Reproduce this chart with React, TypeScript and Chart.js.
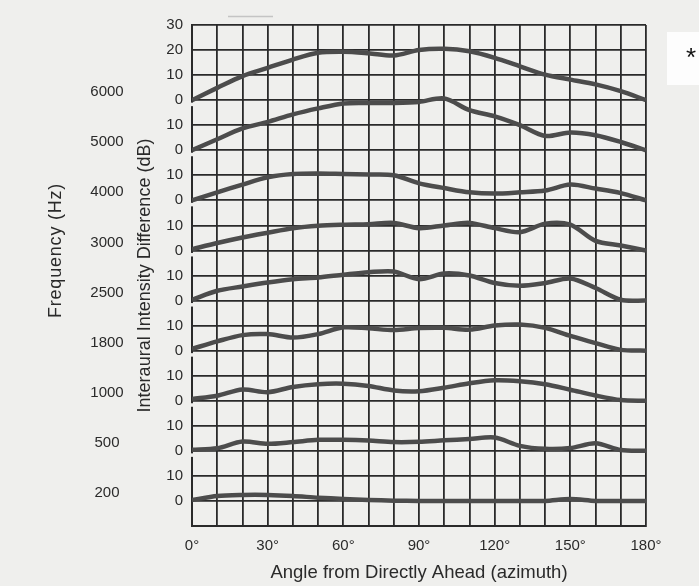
import React, { useEffect, useRef } from 'react';
import { Chart, registerables } from 'chart.js';

Chart.register(...registerables);

// Azimuth angles (degrees) at which each curve is sampled
const ANGLES = [0, 10, 20, 30, 40, 50, 60, 70, 80, 90, 100, 110, 120, 130, 140, 150, 160, 170, 180];

// Frequency of each stacked curve (top to bottom) and the baseline offset of its 0 dB line
const FREQUENCIES = ['6000', '5000', '4000', '3000', '2500', '1800', '1000', '500', '200'];
const BASELINES = [160, 140, 120, 100, 80, 60, 40, 20, 0];

// Interaural intensity difference (dB) per frequency
const IID_6000 = [0, 4.9, 9.6, 12.9, 16.2, 18.9, 19.3, 18.7, 17.8, 20.0, 20.5, 19.5, 16.9, 13.5, 10.2, 8.2, 6.3, 3.6, 0];
const IID_5000 = [0, 4.4, 8.7, 11.3, 14.3, 16.7, 18.7, 18.9, 18.9, 19.3, 20.7, 16.0, 13.5, 10.0, 5.7, 7.1, 6.0, 3.3, 0];
const IID_4000 = [0, 3.2, 6.3, 9.2, 10.5, 10.7, 10.5, 10.3, 10.0, 6.8, 4.9, 3.2, 2.7, 3.2, 3.9, 6.3, 4.7, 2.9, 0];
const IID_3000 = [0.5, 3.0, 5.2, 7.1, 8.9, 9.9, 10.3, 10.5, 11.0, 8.9, 10.0, 11.0, 8.9, 7.3, 10.7, 10.3, 3.8, 2.0, 0];
const IID_2500 = [0.3, 3.9, 5.6, 7.2, 8.5, 9.2, 10.3, 11.3, 11.6, 8.5, 10.8, 10.0, 7.0, 5.9, 7.0, 8.8, 5.0, 0.3, 0];
const IID_1800 = [0.7, 3.7, 6.2, 6.6, 5.2, 6.6, 9.3, 8.9, 8.2, 9.0, 9.1, 8.4, 10.0, 10.4, 9.1, 5.9, 3.0, 0.3, 0];
const IID_1000 = [0.7, 2.0, 4.5, 3.4, 5.5, 6.6, 6.8, 5.9, 4.1, 3.8, 5.2, 7.0, 8.2, 7.8, 6.6, 4.4, 2.1, 0.3, 0];
const IID_500 = [0.4, 1.0, 3.7, 2.8, 3.5, 4.4, 4.4, 4.1, 3.5, 3.6, 4.2, 4.7, 5.3, 2.0, 0.8, 1.1, 3.0, 0.3, 0];
const IID_200 = [0.4, 2.0, 2.4, 2.4, 2.0, 1.3, 0.8, 0.4, 0.1, 0, 0, 0, 0, 0, 0, 0.8, 0, 0, 0];

const SERIES = [IID_6000, IID_5000, IID_4000, IID_3000, IID_2500, IID_1800, IID_1000, IID_500, IID_200];

// Tick labels
const Y_TICK_VALUES = [-10, 0, 10, 20, 30, 40, 50, 60, 70, 80, 90, 100, 110, 120, 130, 140, 150, 160, 170, 180, 190];
const Y_TICK_LABELS = ['', '0', '10', '0', '10', '0', '10', '0', '10', '0', '10', '0', '10', '0', '10', '0', '10', '0', '10', '20', '30'];
const X_TICK_VALUES = [0, 30, 60, 90, 120, 150, 180];
const X_TICK_LABELS = ['0°', '30°', '60°', '90°', '120°', '150°', '180°'];

const FONT = '"Liberation Sans", Arial, Helvetica, sans-serif';
const BG = '#efefed';
const INK = '#2a2a2a';

const decorPlugin = {
  id: 'decor',
  beforeDraw(chart: any) {
    const { ctx, width, height } = chart;
    ctx.save();
    ctx.fillStyle = BG;
    ctx.fillRect(0, 0, width, height);
    // white paper patch at the right edge
    ctx.fillStyle = '#fdfdfd';
    ctx.fillRect(667, 32, 32, 53);
    // faint rule above the plot
    ctx.strokeStyle = '#c4c4c4';
    ctx.lineWidth = 1.5;
    ctx.beginPath();
    ctx.moveTo(228, 16.5);
    ctx.lineTo(273, 16.5);
    ctx.stroke();
    ctx.restore();
  },
  afterDraw(chart: any) {
    const { ctx, chartArea } = chart;
    const y = chart.scales.y;
    ctx.save();
    // small breaks in the left frame just below each baseline
    ctx.fillStyle = BG;
    BASELINES.forEach((b) => {
      if (b === 0) return;
      const py = y.getPixelForValue(b);
      ctx.fillRect(chartArea.left - 3, py + 2.5, 4, 3.5);
    });
    // frequency labels
    ctx.fillStyle = INK;
    ctx.font = `15px ${FONT}`;
    ctx.textAlign = 'center';
    ctx.textBaseline = 'middle';
    FREQUENCIES.forEach((f, i) => {
      ctx.fillText(f, 107, y.getPixelForValue(BASELINES[i] + 3.2));
    });
    // frequency axis title
    ctx.save();
    ctx.translate(56, y.getPixelForValue(100));
    ctx.rotate(-Math.PI / 2);
    ctx.font = `18px ${FONT}`;
    (ctx as any).letterSpacing = '0.8px';
    ctx.fillText('Frequency (Hz)', 0, 0);
    ctx.restore();
    // asterisk on the paper patch
    ctx.fillStyle = '#111';
    ctx.font = `26px ${FONT}`;
    ctx.textAlign = 'center';
    ctx.textBaseline = 'middle';
    ctx.fillText('*', 691, 59);
    ctx.restore();
  },
};

export default function App() {
  const canvasRef = useRef<HTMLCanvasElement | null>(null);

  useEffect(() => {
    const canvas = canvasRef.current;
    if (!canvas) return;
    const datasets = SERIES.map((values, i) => ({
      label: `${FREQUENCIES[i]} Hz`,
      data: ANGLES.map((a, k) => ({ x: a, y: BASELINES[i] + values[k] })),
      borderColor: '#4c4c4c',
      borderWidth: 4.5,
      pointRadius: 0,
      tension: 0.3,
      fill: false,
    }));

    const chart = new Chart(canvas, {
      type: 'line',
      data: { datasets },
      plugins: [decorPlugin],
      options: {
        animation: false,
        responsive: false,
        maintainAspectRatio: false,
        layout: { padding: { top: 25, right: 53, left: 0, bottom: 0 } },
        plugins: {
          legend: { display: false },
          tooltip: { enabled: false },
        },
        scales: {
          x: {
            type: 'linear',
            min: 0,
            max: 180,
            afterFit: (s: any) => {
              s.height = 60;
            },
            afterBuildTicks: (s: any) => {
              s.ticks = ANGLES.map((v) => ({ value: v }));
            },
            ticks: {
              autoSkip: false,
              maxRotation: 0,
              padding: 11,
              color: INK,
              font: { family: FONT, size: 15 },
              callback: (v: any) => {
                const idx = X_TICK_VALUES.indexOf(Number(v));
                return idx >= 0 ? X_TICK_LABELS[idx] : '';
              },
            },
            grid: { color: INK, lineWidth: 1.8, drawTicks: false },
            border: { display: true, color: INK, width: 2 },
            title: {
              display: true,
              text: 'Angle from Directly Ahead (azimuth)',
              color: INK,
              font: { family: FONT, size: 18.5 },
              padding: { top: 0, bottom: 2 },
            },
          },
          y: {
            type: 'linear',
            min: -10,
            max: 190,
            afterFit: (s: any) => {
              s.width = 192;
            },
            afterBuildTicks: (s: any) => {
              s.ticks = Y_TICK_VALUES.map((v) => ({ value: v }));
            },
            ticks: {
              autoSkip: false,
              padding: 9,
              color: INK,
              font: { family: FONT, size: 15 },
              callback: (v: any) => {
                const idx = Y_TICK_VALUES.indexOf(Number(v));
                return idx >= 0 ? Y_TICK_LABELS[idx] : '';
              },
            },
            grid: { color: INK, lineWidth: 1.8, drawTicks: false },
            border: { display: true, color: INK, width: 2 },
            title: {
              display: true,
              text: 'Interaural Intensity Difference (dB)',
              color: INK,
              font: { family: FONT, size: 18 },
              padding: { top: 134, bottom: 0 },
            },
          },
        },
      },
    });
    return () => chart.destroy();
  }, []);

  return (
    <div style={{ position: 'absolute', left: 0, top: 0, width: 699, height: 586 }}>
      <canvas ref={canvasRef} width={699} height={586} style={{ display: 'block', width: 699, height: 586 }} />
    </div>
  );
}
